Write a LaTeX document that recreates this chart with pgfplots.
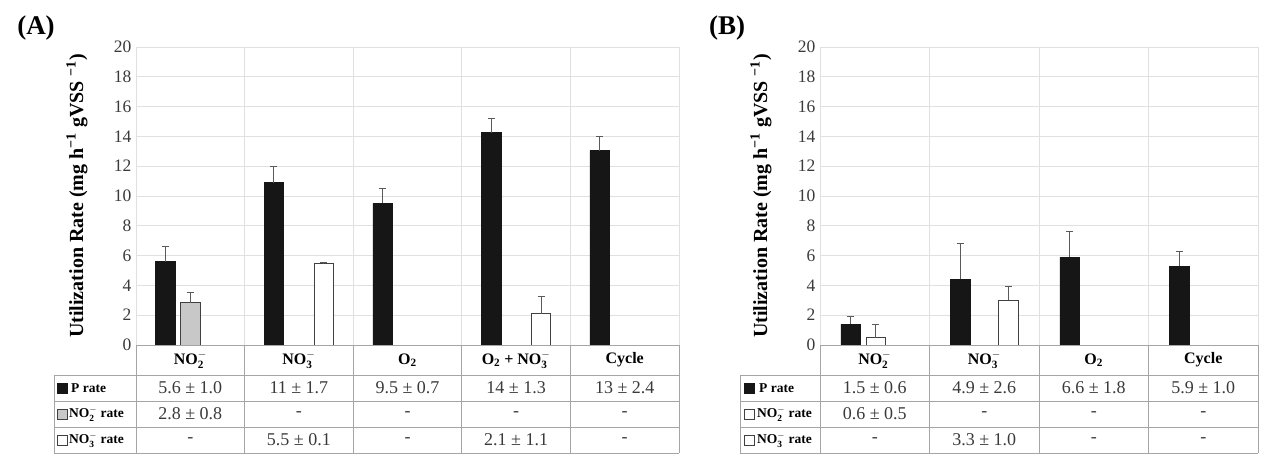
\documentclass[border=0pt]{standalone}
\usepackage{fontspec}
\setmainfont{Liberation Serif}
\usepackage{pgfplots}
\pgfplotsset{compat=1.18}

\definecolor{gridc}{HTML}{E0E0E0}
\definecolor{tabc}{HTML}{A5A5A5}
\definecolor{txtc}{HTML}{3A3A3A}
\definecolor{barP}{HTML}{161616}
\definecolor{barG}{HTML}{C8C8C8}
\definecolor{errc}{HTML}{5A5A5A}
\definecolor{edgec}{HTML}{404040}

\newcommand{\ylab}{Utilization Rate (mg h\textsuperscript{−1} gVSS \textsuperscript{−1})}
\newcommand{\NOtwo}{\textbf{NO}$_{\mathbf{2}}^{\mathbf{-}}$}
\newcommand{\NOthree}{\textbf{NO}$_{\mathbf{3}}^{\mathbf{-}}$}
\newcommand{\Otwo}{\textbf{O}$_{\mathbf{2}}$}
\newcommand{\PM}{±}

\pgfplotsset{
  panel/.style={
    scale only axis, height=298pt, ymin=0, ymax=20, ytick={0,2,...,20},
    ymajorgrids, xmajorgrids, grid style={gridc, line width=0.9pt},
    axis line style={gridc, line width=0.9pt},
    major tick length=0pt,
    yticklabel style={font=\fontsize{17.5}{17.5}\selectfont, text=txtc, xshift=-1pt},
    /pgf/number format/assume math mode=true,
    xticklabels={},
    ylabel={\ylab},
    ylabel style={font=\bfseries\fontsize{20}{20}\selectfont, at={(axis description cs:0,0.5)}, anchor=center, yshift=59pt},
    clip=false,
  },
  err/.style={error bars/.cd, y dir=plus, y explicit,
    error bar style={errc, line width=1pt},
    error mark options={errc, mark size=3.5pt, line width=1pt, rotate=90}},
}

\begin{document}
\begin{tikzpicture}
% ---------------- Panel A ----------------
\begin{axis}[panel, at={(136pt,111pt)}, anchor=south west, width=543pt,
  xmin=-0.5, xmax=4.5, xtick={0.5,1.5,2.5,3.5}]
\addplot[ybar, bar width=0.18, bar shift=0, fill=barP, draw=barP, err]
  coordinates {(-0.23,5.6) +- (0,1.0) (0.77,10.9) +- (0,1.05) (1.77,9.5) +- (0,1.0) (2.77,14.25) +- (0,0.95) (3.77,13.05) +- (0,0.95)};
\addplot[ybar, bar width=0.18, bar shift=0, fill=barG, draw=edgec, line width=0.9pt, err]
  coordinates {(0,2.85) +- (0,0.7)};
\addplot[ybar, bar width=0.18, bar shift=0, fill=white, draw=edgec, line width=0.9pt, err]
  coordinates {(1.23,5.45) +- (0,0.1) (3.23,2.1) +- (0,1.15)};
\end{axis}
% ---------------- Panel B ----------------
\begin{axis}[panel, at={(820pt,111pt)}, anchor=south west, width=438pt,
  xmin=-0.5, xmax=3.5, xtick={0.5,1.5,2.5}]
\addplot[ybar, bar width=0.18, bar shift=0, fill=barP, draw=barP, err]
  coordinates {(-0.22,1.4) +- (0,0.5) (0.78,4.4) +- (0,2.4) (1.78,5.9) +- (0,1.75) (2.78,5.3) +- (0,1.0)};
\addplot[ybar, bar width=0.18, bar shift=0, fill=white, draw=edgec, line width=0.9pt, err]
  coordinates {(0.01,0.5) +- (0,0.9)};
\addplot[ybar, bar width=0.18, bar shift=0, fill=white, draw=edgec, line width=0.9pt, err]
  coordinates {(1.22,3.0) +- (0,0.9)};
\end{axis}

% ---------------- Tables ----------------
\begin{scope}[tabc, line width=0.9pt]
  % A
  \draw (136pt,111pt) -- (679pt,111pt);
  \foreach \yy in {81,55,29,3} \draw (54pt,\yy pt) -- (679pt,\yy pt);
  \foreach \k in {0,...,5} \draw ({(136+\k*108.6)*1pt},111pt) -- ({(136+\k*108.6)*1pt},3pt);
  \draw (54pt,81pt) -- (54pt,3pt);
  % B
  \draw (820pt,111pt) -- (1258pt,111pt);
  \foreach \yy in {81,55,29,3} \draw (740pt,\yy pt) -- (1258pt,\yy pt);
  \foreach \k in {0,...,4} \draw ({(820+\k*109.5)*1pt},111pt) -- ({(820+\k*109.5)*1pt},3pt);
  \draw (740pt,81pt) -- (740pt,3pt);
\end{scope}

% category labels
\begin{scope}[every node/.style={font=\fontsize{16}{16}\selectfont\bfseries, text=black, anchor=center}]
  \node at ({(136+0.5*108.6)*1pt},96pt) {\NOtwo};
  \node at ({(136+1.5*108.6)*1pt},96pt) {\NOthree};
  \node at ({(136+2.5*108.6)*1pt},96pt) {\Otwo};
  \node at ({(136+3.5*108.6)*1pt},96pt) {\Otwo{} + \NOthree};
  \node at ({(136+4.5*108.6)*1pt},96pt) {Cycle};
  \node at ({(820+0.5*109.5)*1pt},96pt) {\NOtwo};
  \node at ({(820+1.5*109.5)*1pt},96pt) {\NOthree};
  \node at ({(820+2.5*109.5)*1pt},96pt) {\Otwo};
  \node at ({(820+3.5*109.5)*1pt},96pt) {Cycle};
\end{scope}

% values
\begin{scope}[every node/.style={font=\fontsize{18}{18}\selectfont, text=txtc, anchor=center}]
  \foreach \t [count=\i from 0] in {5.6 \PM{} 1.0, 11 \PM{} 1.7, 9.5 \PM{} 0.7, 14 \PM{} 1.3, 13 \PM{} 2.4}
    \node at ({(136+(\i+0.5)*108.6)*1pt},68pt) {\t};
  \foreach \t [count=\i from 0] in {2.8 \PM{} 0.8, -, -, -, -}
    \node at ({(136+(\i+0.5)*108.6)*1pt},42pt) {\t};
  \foreach \t [count=\i from 0] in {-, 5.5 \PM{} 0.1, -, 2.1 \PM{} 1.1, -}
    \node at ({(136+(\i+0.5)*108.6)*1pt},16pt) {\t};
  \foreach \t [count=\i from 0] in {1.5 \PM{} 0.6, 4.9 \PM{} 2.6, 6.6 \PM{} 1.8, 5.9 \PM{} 1.0}
    \node at ({(820+(\i+0.5)*109.5)*1pt},68pt) {\t};
  \foreach \t [count=\i from 0] in {0.6 \PM{} 0.5, -, -, -}
    \node at ({(820+(\i+0.5)*109.5)*1pt},42pt) {\t};
  \foreach \t [count=\i from 0] in {-, 3.3 \PM{} 1.0, -, -}
    \node at ({(820+(\i+0.5)*109.5)*1pt},16pt) {\t};
\end{scope}

% legend column
\begin{scope}[every node/.style={font=\fontsize{13.5}{13.5}\selectfont\bfseries, text=black, anchor=west, inner sep=0pt}]
  % A
  \draw[barP, fill=barP] (57pt,63pt) rectangle (67pt,73pt);
  \node at (71pt,68pt) {P rate};
  \draw[edgec, fill=barG, line width=0.7pt] (57pt,37pt) rectangle (67pt,47pt);
  \node at (69pt,42pt) {NO$_{\mathbf{2}}^{\mathbf{-}}$ rate};
  \draw[edgec, fill=white, line width=0.7pt] (57pt,11pt) rectangle (67pt,21pt);
  \node at (69pt,16pt) {NO$_{\mathbf{3}}^{\mathbf{-}}$ rate};
  % B
  \draw[barP, fill=barP] (744pt,63pt) rectangle (754pt,73pt);
  \node at (759pt,68pt) {P rate};
  \draw[edgec, fill=white, line width=0.7pt] (744pt,37pt) rectangle (754pt,47pt);
  \node at (757pt,42pt) {NO$_{\mathbf{2}}^{\mathbf{-}}$ rate};
  \draw[edgec, fill=white, line width=0.7pt] (744pt,11pt) rectangle (754pt,21pt);
  \node at (757pt,16pt) {NO$_{\mathbf{3}}^{\mathbf{-}}$ rate};
\end{scope}

% panel letters
\node[font=\fontsize{27}{27}\selectfont\bfseries] at (36pt,428pt) {(A)};
\node[font=\fontsize{27}{27}\selectfont\bfseries] at (727pt,428pt) {(B)};

\pgfresetboundingbox
\useasboundingbox (0pt,0pt) rectangle (1267pt,456pt);
\end{tikzpicture}
\end{document}
